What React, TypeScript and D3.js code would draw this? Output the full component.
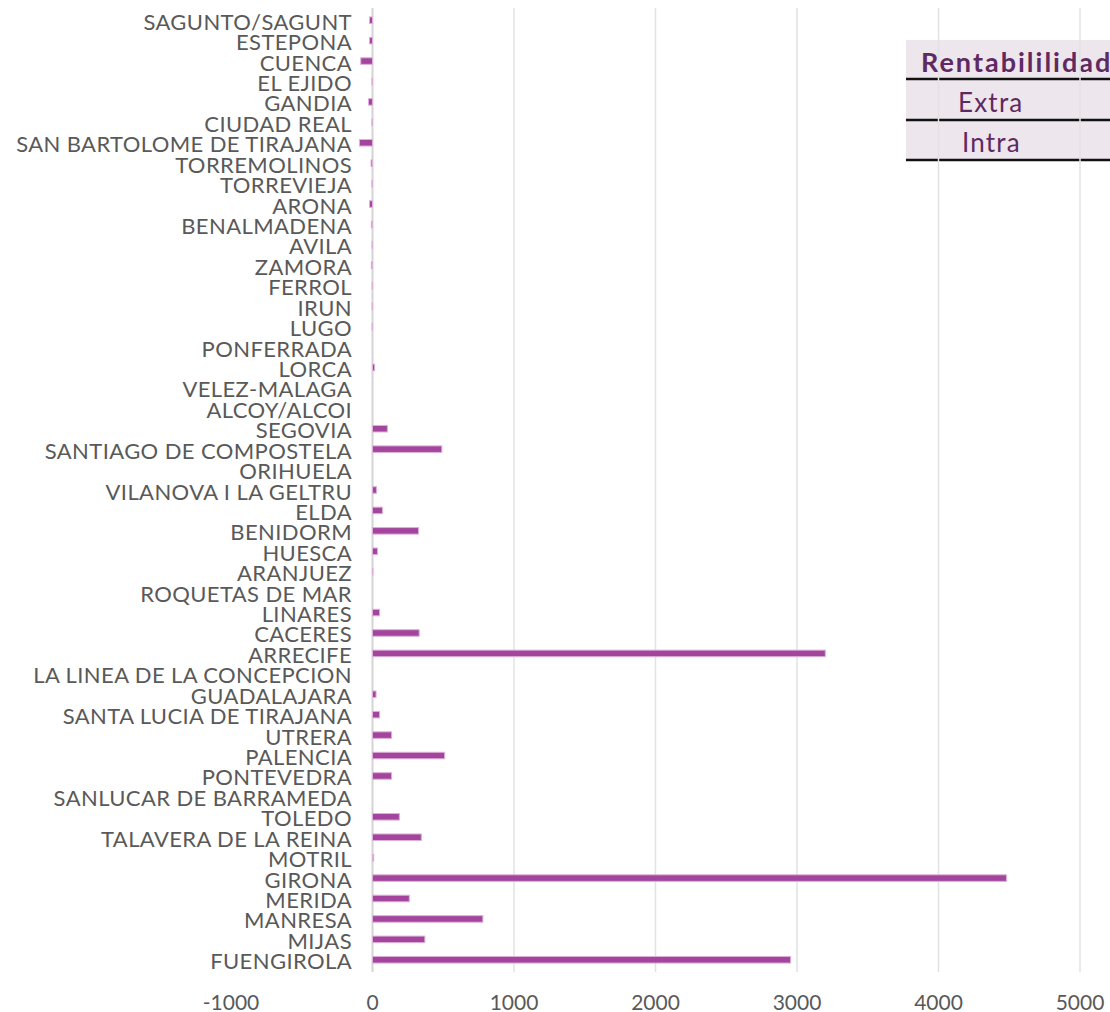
import React, { useEffect, useRef } from 'react'
import * as d3 from 'd3'

const cities = [
  'SAGUNTO/SAGUNT', 'ESTEPONA', 'CUENCA', 'EL EJIDO', 'GANDIA', 'CIUDAD REAL',
  'SAN BARTOLOME DE TIRAJANA', 'TORREMOLINOS', 'TORREVIEJA', 'ARONA', 'BENALMADENA',
  'AVILA', 'ZAMORA', 'FERROL', 'IRUN', 'LUGO', 'PONFERRADA', 'LORCA', 'VELEZ-MALAGA',
  'ALCOY/ALCOI', 'SEGOVIA', 'SANTIAGO DE COMPOSTELA', 'ORIHUELA', 'VILANOVA I LA GELTRU',
  'ELDA', 'BENIDORM', 'HUESCA', 'ARANJUEZ', 'ROQUETAS DE MAR', 'LINARES', 'CACERES',
  'ARRECIFE', 'LA LINEA DE LA CONCEPCION', 'GUADALAJARA', 'SANTA LUCIA DE TIRAJANA',
  'UTRERA', 'PALENCIA', 'PONTEVEDRA', 'SANLUCAR DE BARRAMEDA', 'TOLEDO',
  'TALAVERA DE LA REINA', 'MOTRIL', 'GIRONA', 'MERIDA', 'MANRESA', 'MIJAS', 'FUENGIROLA',
]

const rentabilidad = [
  -21, -21, -83, -4, -28, -4,
  -92, -10, -4, -21, -8,
  -3, -8, -3, -3, -3, 0, 15, 0,
  0, 105, 490, 0, 28,
  70, 325, 35, 3, 0, 50, 330,
  3200, 0, 25, 50,
  135, 510, 135, 0, 190,
  345, 8, 4480, 260, 780, 370, 2955,
]

const xTicks = [-1000, 0, 1000, 2000, 3000, 4000, 5000]
const legendTitle = 'Rentabililidad'
const legendRows = ['Extra', 'Intra']

const FONT = "'Lato', 'Open Sans', sans-serif"

function App() {
  const ref = useRef<SVGSVGElement>(null)

  useEffect(() => {
    const svg = d3.select(ref.current)
    svg.selectAll('*').remove()

    const x = d3.scaleLinear().domain([-1000, 5000]).range([231, 1080])
    const y = d3.scaleBand<string>().domain(cities).range([10, 970]).paddingInner(0.68).paddingOuter(0.34)

    // legend table (drawn under the grid)
    const lg = svg.append('g')
    lg.append('rect').attr('x', 906).attr('y', 40).attr('width', 210).attr('height', 120).attr('fill', '#ede6ec')
    ;[79, 120, 160].forEach(ly => {
      lg.append('line').attr('x1', 906).attr('x2', 1110).attr('y1', ly).attr('y2', ly)
        .attr('stroke', '#111').attr('stroke-width', 2.5)
    })
    lg.append('text').attr('x', 921).attr('y', 72).text(legendTitle)
      .attr('fill', '#5f2a62').attr('font-weight', 'bold').attr('font-size', 27)
      .attr('letter-spacing', 2).attr('font-family', FONT)
    legendRows.forEach((r, i) => {
      lg.append('text').attr('x', i === 0 ? 958 : 962).attr('y', 112 + i * 40).text(r)
        .attr('fill', '#5f2a62').attr('font-size', 26).attr('letter-spacing', 1.2).attr('font-family', FONT)
    })

    // grid
    svg.append('g').selectAll('line').data(xTicks.filter(t => t > -1000)).enter().append('line')
      .attr('x1', d => x(d)).attr('x2', d => x(d)).attr('y1', 8).attr('y2', 972)
      .attr('stroke', d => (d === 0 ? '#d4d4d4' : '#e2e2e2')).attr('stroke-width', d => (d === 0 ? 2 : 1.5))

    // bars
    svg.append('g').selectAll('rect').data(cities).enter().append('rect')
      .attr('x', (d, i) => x(Math.min(0, rentabilidad[i])))
      .attr('y', d => y(d) as number)
      .attr('width', (d, i) => Math.abs(x(rentabilidad[i]) - x(0)))
      .attr('height', y.bandwidth())
      .attr('fill', '#a3449d')
      .attr('stroke', '#dcb0d8').attr('stroke-width', 1)

    // category labels
    svg.append('g').selectAll('text').data(cities).enter().append('text')
      .attr('x', 352).attr('y', d => (y(d) as number) + y.bandwidth() / 2 + 1)
      .attr('text-anchor', 'end').attr('dominant-baseline', 'central')
      .attr('fill', '#595959').attr('font-size', 22).attr('letter-spacing', 0.4).attr('font-family', FONT)
      .text(d => d)

    // x tick labels
    svg.append('g').selectAll('text').data(xTicks).enter().append('text')
      .attr('x', d => x(d)).attr('y', 1001)
      .attr('text-anchor', 'middle').attr('dominant-baseline', 'central')
      .attr('fill', '#595959').attr('font-size', 21).attr('font-family', FONT)
      .text(d => String(d))
  }, [])

  return (
    <svg ref={ref} width={1110} height={1012}
      style={{ position: 'absolute', left: 0, top: 0, background: '#fff' }} />
  )
}

export default App
